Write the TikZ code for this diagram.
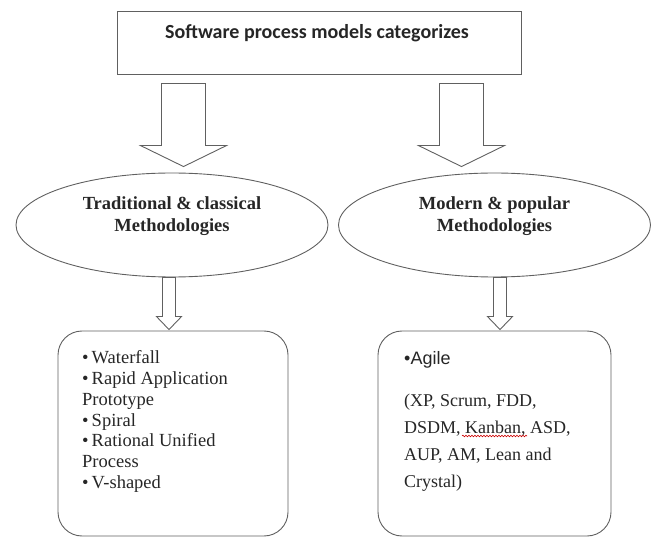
\documentclass[tikz,border=0pt]{standalone}
\usepackage{fontspec}
\setmainfont{Liberation Serif}
\newfontfamily\titlefont{Carlito}
\newfontfamily\agilefont{Liberation Sans}
\usetikzlibrary{shapes.geometric,calc,decorations.pathmorphing}

% tail, tip, half shaft, half head, head length
\newcommand{\blockarrow}[5]{%
  \draw[arrowline] ($(#1)+(-#3,0)$) -- ($(#2)+(-#3,-#5)$) -- ($(#2)+(-#4,-#5)$) -- (#2)
    -- ($(#2)+(#4,-#5)$) -- ($(#2)+(#3,-#5)$) -- ($(#1)+(#3,0)$) -- cycle;}

\begin{document}
\begin{tikzpicture}[x=1pt, y=-1pt, line join=miter,
  arrowline/.style={draw=gray!75!black, line width=0.9pt},
  topbox/.style={draw=gray!75!black, line width=1pt, minimum width=404pt, minimum height=63pt, inner sep=0pt},
  method/.style={ellipse, draw=gray!75!black, line width=0.9pt, minimum width=312pt, minimum height=104pt, inner sep=0pt},
  methtext/.style={font=\bfseries\fontsize{18.5}{22}\selectfont, align=center, text=black!85},
  listbox/.style={draw=gray!75!black, line width=0.9pt, rounded corners=24pt, minimum width=230pt, minimum height=205pt, inner sep=0pt},
  listtext/.style={align=left, anchor=north west, inner sep=0pt, text=black!85},
  spellwave/.style={draw=red!80!black, line width=0.6pt, decorate, decoration={snake, amplitude=0.8pt, segment length=3pt}}]
	\useasboundingbox (0,0) rectangle (656,537);
	\node[topbox] (cat) at (319,43.5) {};
	\node[font=\titlefont\bfseries\fontsize{20}{24}\selectfont, text=black!85] (cattext) at (317,33) {Software process models categorizes};
	\node[method] (trad) at (172,225) {};
	\node[method] (modern) at (494.5,225) {};
	\node[methtext] (tradtext) at (172,216) {Traditional \& classical\\Methodologies};
	\node[methtext] (moderntext) at (494.5,216) {Modern \& popular\\Methodologies};
	\node[listbox] (tradlist) at (173,433.5) {};
	\node[listbox, minimum width=233pt] (modlist) at (494.5,433.5) {};
	\node[listtext, font=\fontsize{18.5}{20.8}\selectfont] (traditems) at (82,350.5) {\textbullet\,Waterfall\\ \textbullet\,Rapid Application\\ Prototype\\ \textbullet\,Spiral\\ \textbullet\,Rational Unified\\ Process\\ \textbullet\,V-shaped};
	\node[listtext, font=\fontsize{18}{27}\selectfont] (moditems) at (404,351.5) {{\agilefont\textbullet Agile}\\[14.5pt] (XP, Scrum, FDD,\\ DSDM, Kanban, ASD,\\ AUP, AM, Lean and\\ Crystal)};
	\draw[spellwave] ([shift={(58,84.5)}]moditems.north west) -- ([shift={(123,84.5)}]moditems.north west);
	% block arrows
	\coordinate (t1) at ([xshift=-135.5pt,yshift=-8pt]cat.south);
	\coordinate (h1) at ($(t1 |- trad.north)+(0,-6)$);
	\coordinate (t2) at ([xshift=142.5pt,yshift=-8pt]cat.south);
	\coordinate (h2) at ($(t2 |- modern.north)+(0,-6)$);
	\coordinate (t3) at ([xshift=-3pt]trad.south);
	\coordinate (h3) at ($(t3 |- tradlist.north)+(0,-1)$);
	\coordinate (t4) at ([xshift=5.5pt]modern.south);
	\coordinate (h4) at ($(t4 |- modlist.north)+(0,-1)$);
	\foreach \t/\h/\s/\w/\l in {t1/h1/22/43/21, t2/h2/22/43/21, t3/h3/6.5/12.5/13, t4/h4/6.5/12.5/13} {\blockarrow{\t}{\h}{\s}{\w}{\l}}
\end{tikzpicture}
\end{document}
